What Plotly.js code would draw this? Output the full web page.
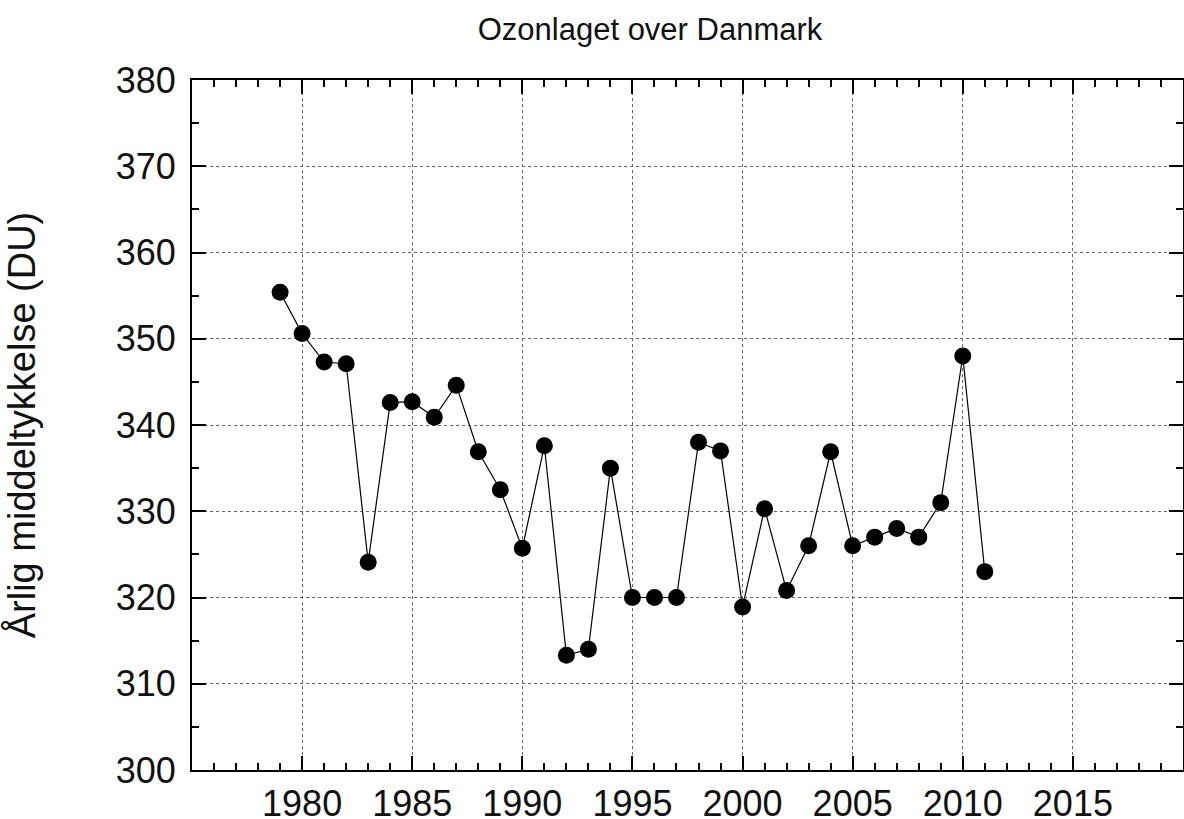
<!DOCTYPE html>
<html>
<head>
<meta charset="utf-8">
<script src="https://cdn.plot.ly/plotly-3.0.1.min.js"></script>
<style>html,body{margin:0;padding:0;background:#fff;}#chart{width:1184px;height:819px;}</style>
</head>
<body>
<div id="chart"></div>
<script>
const years = [1979,1980,1981,1982,1983,1984,1985,1986,1987,1988,1989,1990,1991,1992,1993,1994,1995,1996,1997,1998,1999,2000,2001,2002,2003,2004,2005,2006,2007,2008,2009,2010,2011];
const ozone = [355.4,350.6,347.3,347.1,324.1,342.6,342.7,340.9,344.6,336.9,332.5,325.7,337.6,313.3,314.0,335.0,320.0,320.0,320.0,338.0,337.0,318.9,330.3,320.8,326.0,336.9,326.0,327.0,328.0,327.0,331.0,348.0,323.0];
const xTicks = [1980,1985,1990,1995,2000,2005,2010,2015];
const yTicks = [300,310,320,330,340,350,360,370,380];
const chartTitle = 'Ozonlaget over Danmark';
const yTitle = 'Årlig middeltykkelse (DU)';

const fontFam = '"Liberation Sans", Arial, sans-serif';

const trace = {
  x: years, y: ozone, type: 'scatter', mode: 'lines+markers',
  line: {color: '#000', width: 1.2},
  marker: {color: '#000', size: 17, symbol: 'circle'},
  hoverinfo: 'x+y'
};

const axisCommon = {
  showline: true, linecolor: '#000', linewidth: 2, mirror: 'ticks',
  ticks: 'inside', ticklen: 14, tickwidth: 2, tickcolor: '#000',
  showgrid: true, gridcolor: '#666', griddash: 'dot', gridwidth: 1,
  zeroline: false,
  tickfont: {family: fontFam, size: 36, color: '#111'}
};

const layout = {
  width: 1184, height: 819,
  margin: {l: 192, r: 1, t: 80, b: 49},
  paper_bgcolor: '#fff', plot_bgcolor: '#fff',
  showlegend: false,
  title: {text: chartTitle, font: {family: fontFam, size: 31, color: '#111'},
          x: 0.549, xanchor: 'center', y: 1 - 29/819, yanchor: 'middle', yref: 'container'},
  xaxis: Object.assign({}, axisCommon, {
    range: [1975, 2020], tickmode: 'array', tickvals: xTicks, ticktext: xTicks.map(String),
    ticklabelstandoff: 1,
    minor: {dtick: 1, tick0: 1975, ticks: 'inside', ticklen: 7, tickwidth: 2, tickcolor: '#000', showgrid: false}
  }),
  yaxis: Object.assign({}, axisCommon, {
    range: [300, 380], tickmode: 'array', tickvals: yTicks, ticktext: yTicks.map(String),
    ticklabelstandoff: 7,
    minor: {dtick: 5, tick0: 300, ticks: 'inside', ticklen: 7, tickwidth: 2, tickcolor: '#000', showgrid: false},
    title: {text: yTitle, font: {family: fontFam, size: 38, color: '#111'}, standoff: 68}
  })
};

Plotly.newPlot('chart', [trace], layout, {displayModeBar: false, staticPlot: true});
</script>
</body>
</html>
